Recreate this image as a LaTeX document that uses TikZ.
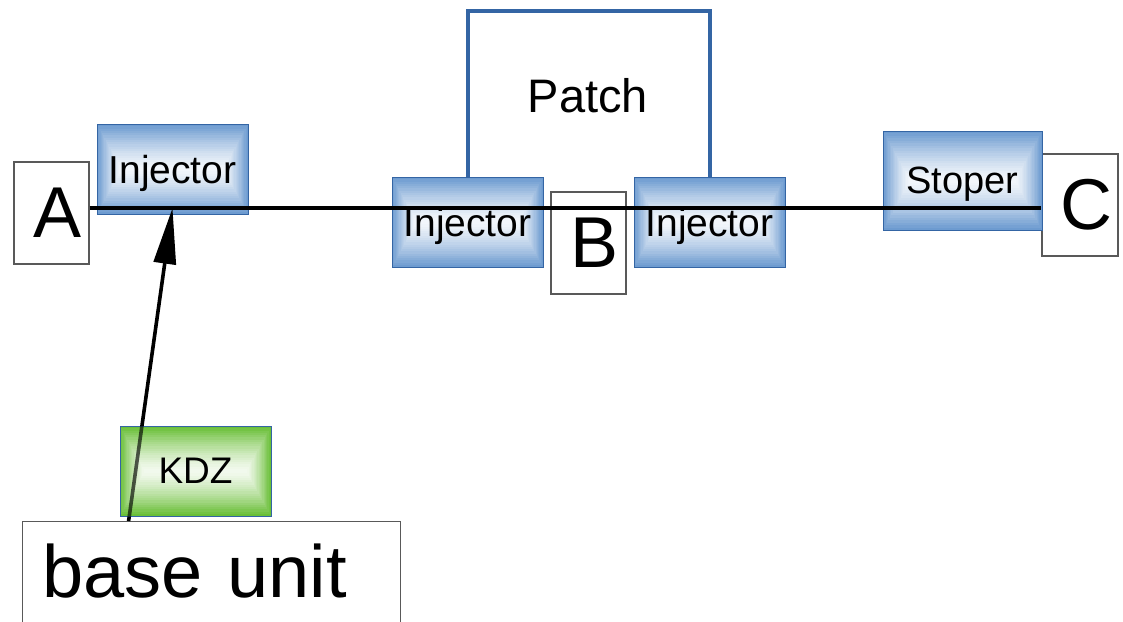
\documentclass[tikz,border=0pt]{standalone}
\usepackage{fontspec}
\setmainfont{Liberation Sans}
\usepackage{xcolor}
\usepackage{tikz}
\usetikzlibrary{calc,arrows.meta,positioning}
\definecolor{injblue}{HTML}{6D9BD0}
\definecolor{lineblue}{HTML}{3465A4}
\definecolor{kdzgreen}{HTML}{6ABF38}
\tikzset{
  rectgrad/.style={path picture={
      \foreach \k [evaluate=\k as \pc using int(93*(1-(1-\k/20)^1.4))] in {0,...,20}
        \fill[white!\pc!#1] let \p1=(path picture bounding box.south west),
          \p2=(path picture bounding box.north east),
          \n1={(\y2-\y1)*\k/40} in
          (\x1+0.55*\n1,\y1+\n1) rectangle (\x2-0.55*\n1,\y2-\n1);
    }},
  injbox/.style={draw=lineblue, line width=1pt, rectgrad=injblue, inner sep=0pt, text depth=0pt,
    minimum width=151pt, minimum height=90pt, font=\fontsize{39}{45}\selectfont},
  stopbox/.style={injbox, minimum width=159pt, minimum height=99pt, font=\fontsize{38}{44}\selectfont},
  kdzbox/.style={draw=lineblue, line width=0.8pt, rectgrad=kdzgreen, inner sep=0pt, text depth=0pt,
    minimum width=151pt, minimum height=90pt, font=\fontsize{37}{42}\selectfont},
  letterbox/.style={draw=black!65, line width=1.2pt, fill=white, inner sep=0pt,
    minimum width=75pt, minimum height=102pt, font=\fontsize{72}{80}\selectfont,
    execute at begin node={\hspace*{12pt}}},
  basebox/.style={draw=black!65, line width=1.2pt, fill=white, anchor=north west, align=left,
    text width=338pt, inner xsep=20pt, inner ysep=22pt, text height=54pt, text depth=60pt,
    font=\fontsize{74}{80}\selectfont},
  patchlabel/.style={font=\fontsize{47}{52}\selectfont, inner sep=0pt},
  mainline/.style={line width=4pt},
  patchline/.style={draw=lineblue, line width=4pt},
  feedline/.style={line width=3.6pt},
  feed/.style={feedline, -{Triangle[length=56pt,width=22pt]}}
}
\begin{document}
\begin{tikzpicture}[x=1pt,y=-1pt]
  \useasboundingbox (0,0) rectangle (1123,621);
  \clip (0,0) rectangle (1123,621);
  \node[letterbox] (A) at (51.5,213) {A};
  \node[letterbox] (B) at (588.5,243) {B};
  \node[letterbox, minimum width=76pt] (C) at (1080,205) {C};
  \node[injbox] (inj1) at (172.5,169) {Injector};
  \node[injbox] (inj2) at (467.5,222) {Injector};
  \node[injbox] (inj3) at (709.5,222) {Injector};
  \node[stopbox] (stop) at (962.5,180.5) {Stoper};
  \node[basebox] (base) at (22,521) {base unit};
  \node[patchlabel] (patch) at (588,96) {Patch};

  \coordinate (lineL) at ([yshift=5pt]A.east);
  \coordinate (lineR) at ([yshift=-3pt]C.west);
  \coordinate (tap) at (inj1 |- lineL);
  \coordinate (src) at ([xshift=-83pt]base.north);

  \draw[mainline] (lineL) -- (lineR);
  \draw[patchline] (inj2.north) -- ++(0,-166) -| (inj3.north);
  \draw[feed] (src) -- (tap);

  \node[kdzbox] (kdz) at (195.5,471) {KDZ};
  \begin{scope}
    \clip (kdz.south west) rectangle (kdz.north east);
    \draw[feedline, draw opacity=0.65] (src) -- (tap);
  \end{scope}
\end{tikzpicture}
\end{document}
